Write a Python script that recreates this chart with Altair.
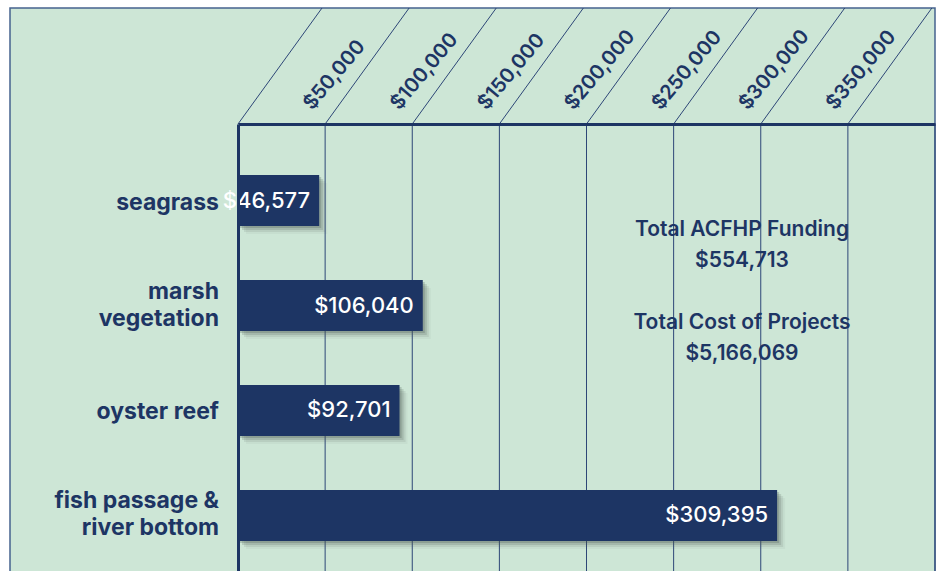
import altair as alt
import pandas as pd

# ---- data ----
categories = ["seagrass", "marsh\nvegetation", "oyster reef", "fish passage &\nriver bottom"]
funding = [46577, 106040, 92701, 309395]
tick_values = [0, 50000, 100000, 150000, 200000, 250000, 300000, 350000, 400000]
note_funding = "Total ACFHP Funding\n$554,713"
note_cost = "Total Cost of Projects\n$5,166,069"

bars_df = pd.DataFrame({"cat": categories, "funding": funding})
ticks_df = pd.DataFrame({"v": tick_values})

# ---- style ----
GREEN = "#cde6d6"
NAVY = "#1d3564"
GRID = "#2d4677"
FRAME = "#46638f"
FONT = "Inter"

xs = alt.Scale(domain=[0, 400000], nice=False, zero=True)
ys = alt.Scale(domain=categories, range=[0, 468], paddingInner=0.514, paddingOuter=0.486)

xaxis = alt.Axis(orient="top", domain=True, domainWidth=3, domainColor=NAVY,
                 ticks=False, labels=False, grid=False, title=None, zindex=1)
yaxis = alt.Axis(orient="left", domain=True, domainWidth=3, domainColor=NAVY,
                 ticks=False, labels=False, grid=False, title=None, zindex=1)


def X(field):
    return alt.X(field, scale=xs, axis=xaxis)


def Y():
    return alt.Y("cat:N", sort=categories, scale=ys, axis=yaxis)


one = pd.DataFrame({"k": [0]})

frame = alt.Chart(one).mark_rect(fill=GREEN, stroke=FRAME, strokeWidth=1.5).encode(
    x=alt.value(-228), x2=alt.value(697), y=alt.value(-116), y2=alt.value(470)
)

grid = alt.Chart(ticks_df).transform_filter("datum.v > 0").mark_rule(
    color=GRID, strokeWidth=1
).encode(x=X("v:Q"), y=alt.value(0), y2=alt.value(447))

slants = alt.Chart(ticks_df).transform_filter("datum.v < 400000").mark_rule(
    color=GRID, strokeWidth=1, x2Offset=84
).encode(x=X("v:Q"), x2="v:Q", y=alt.value(0), y2=alt.value(-116))

tick_labels = alt.Chart(ticks_df).transform_filter(
    "datum.v > 0 && datum.v < 400000"
).mark_text(
    angle=310, align="left", baseline="alphabetic", xOffset=-13,
    font=FONT, fontSize=20, fontWeight=600, color=NAVY
).encode(
    x=X("v:Q"), y=alt.value(-13),
    text=alt.Text("v:Q", format="$,.0f")
)

shadows = []
for off, op in [(2, 0.25), (4, 0.18), (6, 0.11), (8, 0.05)]:
    shadows.append(
        alt.Chart(bars_df).mark_bar(
            color="#46564e", opacity=op, xOffset=off, x2Offset=off, yOffset=off, y2Offset=off
        ).encode(x=X("funding:Q"), y=Y())
    )

bars = alt.Chart(bars_df).mark_bar(color=NAVY).encode(x=X("funding:Q"), y=Y())

value_labels = alt.Chart(bars_df).mark_text(
    align="right", baseline="middle", xOffset=-9, color="white",
    font=FONT, fontSize=22, fontWeight=500
).encode(x=X("funding:Q"), y=Y(), text=alt.Text("funding:Q", format="$,.0f"))

cat_single = alt.Chart(bars_df).transform_filter(
    "indexof(datum.cat, '\\n') < 0"
).mark_text(
    align="right", baseline="middle", yOffset=2,
    font=FONT, fontSize=23, fontWeight=700, color=NAVY
).encode(x=alt.value(-19), y=Y(), text="cat:N")

cat_double = alt.Chart(bars_df).transform_filter(
    "indexof(datum.cat, '\\n') >= 0"
).mark_text(
    align="right", baseline="middle", lineBreak="\n", lineHeight=27, yOffset=-14,
    font=FONT, fontSize=23, fontWeight=700, color=NAVY
).encode(x=alt.value(-19), y=Y(), text="cat:N")

note1 = alt.Chart(one).mark_text(
    align="center", baseline="middle", lineBreak="\n", lineHeight=31,
    font=FONT, fontSize=21, fontWeight=600, color=NAVY
).encode(x=alt.value(504), y=alt.value(106), text=alt.value(note_funding))

note2 = alt.Chart(one).mark_text(
    align="center", baseline="middle", lineBreak="\n", lineHeight=31,
    font=FONT, fontSize=21, fontWeight=600, color=NAVY
).encode(x=alt.value(504), y=alt.value(199), text=alt.value(note_cost))

chart = alt.layer(
    frame, grid, slants, tick_labels, *shadows, bars, value_labels,
    cat_single, cat_double, note1, note2
).properties(
    width=697, height=447,
    padding={"left": 238, "top": 124, "right": 2, "bottom": 0},
    autosize=alt.AutoSizeParams(type="none"),
    background="white",
).configure_view(strokeWidth=0)

chart.save("out.html", embed_options={"renderer": "svg", "actions": False})
